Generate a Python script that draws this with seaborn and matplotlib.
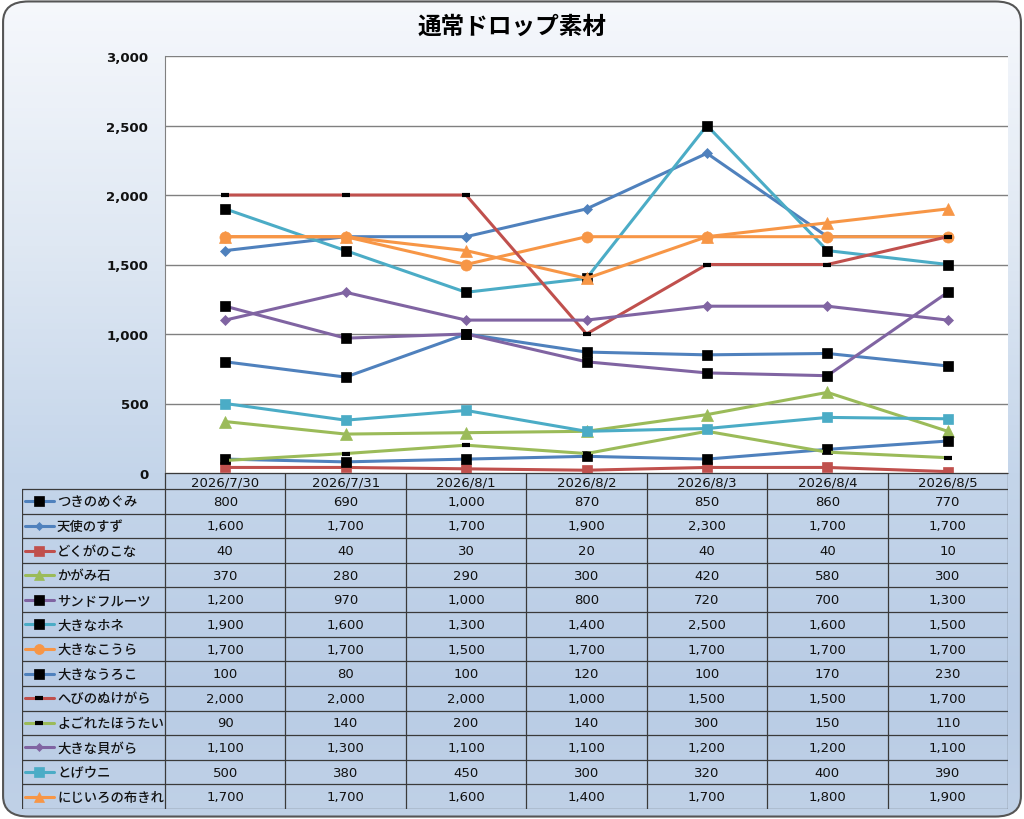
import numpy as np
import matplotlib
matplotlib.use('Agg')
import matplotlib.pyplot as plt
from matplotlib.patches import FancyBboxPatch
import seaborn as sns

# =========================
# Data
# =========================
dates = ['2026/7/30', '2026/7/31', '2026/8/1', '2026/8/2', '2026/8/3', '2026/8/4', '2026/8/5']

names = ['つきのめぐみ', '天使のすず', 'どくがのこな', 'かがみ石', 'サンドフルーツ',
         '大きなホネ', '大きなこうら', '大きなうろこ', 'へびのぬけがら',
         'よごれたほうたい', '大きな貝がら', 'とげウニ', 'にじいろの布きれ']

tsuki_no_megumi = [800, 690, 1000, 870, 850, 860, 770]
tenshi_no_suzu = [1600, 1700, 1700, 1900, 2300, 1700, 1700]
dokuga_no_kona = [40, 40, 30, 20, 40, 40, 10]
kagami_ishi = [370, 280, 290, 300, 420, 580, 300]
sand_fruit = [1200, 970, 1000, 800, 720, 700, 1300]
ookina_hone = [1900, 1600, 1300, 1400, 2500, 1600, 1500]
ookina_koura = [1700, 1700, 1500, 1700, 1700, 1700, 1700]
ookina_uroko = [100, 80, 100, 120, 100, 170, 230]
hebi_no_nukegara = [2000, 2000, 2000, 1000, 1500, 1500, 1700]
yogoreta_houtai = [90, 140, 200, 140, 300, 150, 110]
ookina_kaigara = [1100, 1300, 1100, 1100, 1200, 1200, 1100]
toge_uni = [500, 380, 450, 300, 320, 400, 390]
nijiiro_nunokire = [1700, 1700, 1600, 1400, 1700, 1800, 1900]

series = [tsuki_no_megumi, tenshi_no_suzu, dokuga_no_kona, kagami_ishi, sand_fruit,
          ookina_hone, ookina_koura, ookina_uroko, hebi_no_nukegara,
          yogoreta_houtai, ookina_kaigara, toge_uni, nijiiro_nunokire]

# =========================
# Styles (Excel 2007 palette)
# =========================
BLUE, RED, GREEN = '#4F81BD', '#C0504D', '#9BBB59'
PURPLE, CYAN, ORANGE = '#8064A2', '#4BACC6', '#F79646'

# (line colour, marker, marker colour, marker size)
styles = [
    (BLUE, 's', 'black', 7.5),
    (BLUE, 'D', BLUE, 5),
    (RED, 's', RED, 7.5),
    (GREEN, '^', GREEN, 8),
    (PURPLE, 's', 'black', 7.5),
    (CYAN, 's', 'black', 7.5),
    (ORANGE, 'o', ORANGE, 8),
    (BLUE, 's', 'black', 7.5),
    (RED, '_', 'black', 6),
    (GREEN, '_', 'black', 6),
    (PURPLE, 'D', PURPLE, 5),
    (CYAN, 's', CYAN, 7.5),
    (ORANGE, '^', ORANGE, 8),
]

sns.set_style('white')
plt.rcParams['font.family'] = ['Noto Sans CJK JP', 'DejaVu Sans']
NUM_FONT = ['DejaVu Sans']

fig = plt.figure(figsize=(10.24, 8.2), dpi=100)

# background gradient inside a rounded frame
bg = fig.add_axes([0, 0, 1, 1], zorder=-10)
bg.set_xlim(0, 1)
bg.set_ylim(0, 1)
bg.axis('off')
frame = FancyBboxPatch((0.003, 0.003), 0.994, 0.994,
                       boxstyle='round,pad=0,rounding_size=0.025',
                       fc='none', ec='#555555', lw=1.5, transform=bg.transAxes)
bg.add_patch(frame)
grad = np.linspace(0, 1, 256).reshape(-1, 1)
cmap = matplotlib.colors.LinearSegmentedColormap.from_list(
    'bg', [(0, '#f6f8fc'), (0.3, '#dfe8f3'), (0.58, '#c4d5ea'),
           (0.85, '#b9cce5'), (1, '#c0d1e7')])
im = bg.imshow(grad, aspect='auto', cmap=cmap, extent=[0, 1, 0, 1], origin='upper')
im.set_clip_path(frame)

# =========================
# Line chart
# =========================
ax = fig.add_axes([165 / 1024, 1 - 474 / 820, 843 / 1024, 417 / 820])
ax.set_facecolor('white')
x = np.arange(len(dates))

for vals, (col, mk, mcol, ms) in zip(series, styles):
    sns.lineplot(x=x, y=vals, ax=ax, color=col, lw=2.2, marker=mk, markersize=ms,
                 markerfacecolor=mcol, markeredgecolor=mcol,
                 markeredgewidth=3 if mk == '_' else 0.5)

ax.set_xlim(-0.5, len(dates) - 0.5)
ax.set_ylim(0, 3000)
ax.set_yticks(range(0, 3001, 500))
ax.yaxis.set_major_formatter(matplotlib.ticker.StrMethodFormatter('{x:,.0f}'))
ax.set_xticks([])
ax.grid(axis='y', color='#808080', lw=1)
ax.tick_params(axis='y', length=0, pad=12)
for lbl in ax.get_yticklabels():
    lbl.set_fontweight('bold')
    lbl.set_family(NUM_FONT)
    lbl.set_fontsize(9.5)
    lbl.set_color('#111111')
for s in ['top', 'right']:
    ax.spines[s].set_visible(False)
ax.spines['left'].set_color('#808080')
ax.spines['bottom'].set_color('#808080')

fig.text(0.5, 1 - 27 / 820, '通常ドロップ素材', ha='center', va='center',
         fontsize=17, fontweight='bold', color='black')

# =========================
# Data table
# =========================
tb = fig.add_axes([22 / 1024, 1 - 810 / 820, 986 / 1024, 336 / 820])
tb.patch.set_alpha(0)
lab_w = 143 / (843 / 7)
x0 = -0.5 - lab_w
head = 16 / 24.6
n = len(names)
tb.set_xlim(x0, len(dates) - 0.5)
tb.set_ylim(head + n, 0)
tb.axis('off')

lc = '#3a3a3a'
for i in range(len(dates) + 1):
    tb.plot([i - 0.5, i - 0.5], [0, head + n], color=lc, lw=0.9)
tb.plot([x0, x0], [head, head + n], color=lc, lw=0.9)
tb.plot([-0.5, len(dates) - 0.5], [0, 0], color=lc, lw=0.9)
for r in range(n + 1):
    tb.plot([x0, len(dates) - 0.5], [head + r, head + r], color=lc, lw=0.9)

for i, d in enumerate(dates):
    tb.text(i, head / 2 + 0.03, d, ha='center', va='center', fontsize=9.5,
            family=NUM_FONT, color='#111111')

for r, (nm, vals, (col, mk, mcol, ms)) in enumerate(zip(names, series, styles)):
    yc = head + r + 0.5
    kx = x0 + 3 / 120.4
    tb.plot([kx, kx + 29 / 120.4], [yc, yc], color=col, lw=2.2)
    tb.plot([kx + 14 / 120.4], [yc], marker=mk, ms=ms * 0.9, color=mcol,
            mec=mcol, mew=3 if mk == '_' else 0.5)
    tb.text(kx + 32 / 120.4, yc, nm, ha='left', va='center', fontsize=9.6,
            fontweight='medium', color='#111111')
    for i, v in enumerate(vals):
        tb.text(i, yc, f'{v:,}', ha='center', va='center', fontsize=9.5,
                family=NUM_FONT, color='#111111')

fig.savefig('out.png', dpi=100)
